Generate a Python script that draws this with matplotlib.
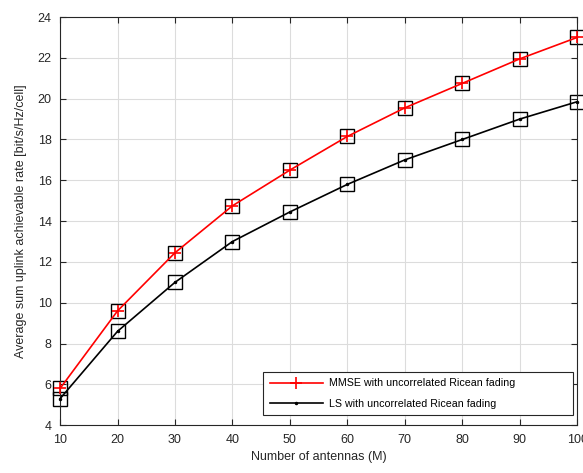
import matplotlib
matplotlib.use("Agg")
import matplotlib.pyplot as plt

plt.rcParams['font.family'] = ['Liberation Sans', 'DejaVu Sans']

# --- DATA ---
antennas = [10, 20, 30, 40, 50, 60, 70, 80, 90, 100]
mmse_rate = [5.8, 9.6, 12.45, 14.75, 16.5, 18.15, 19.55, 20.75, 21.95, 23.0]
ls_rate = [5.3, 8.6, 11.0, 13.0, 14.45, 15.8, 17.0, 18.0, 19.0, 19.85]
x_ticks = [10, 20, 30, 40, 50, 60, 70, 80, 90, 100]
y_ticks = [4, 6, 8, 10, 12, 14, 16, 18, 20, 22, 24]

fig = plt.figure(figsize=(5.83, 4.73), dpi=100)
ax = fig.add_axes([0.103, 0.101, 0.887, 0.863])

ax.plot(antennas, mmse_rate, color='red', lw=1.2, marker='+', ms=9, mew=1.2,
        label='MMSE with uncorrelated Ricean fading', zorder=3, clip_on=False)
ax.plot(antennas, ls_rate, color='black', lw=1.2, marker='.', ms=3,
        label='LS with uncorrelated Ricean fading', zorder=3, clip_on=False)
# square markers from the simulation points (not in legend)
ax.plot(antennas, mmse_rate, ls='none', marker='s', ms=10, mfc='none', mec='black', mew=1.0,
        zorder=2, clip_on=False)
ax.plot(antennas, ls_rate, ls='none', marker='s', ms=10, mfc='none', mec='black', mew=1.0,
        zorder=2, clip_on=False)

ax.set_xlim(10, 100)
ax.set_ylim(4, 24)
ax.set_xticks(x_ticks)
ax.set_yticks(y_ticks)
ax.tick_params(direction='in', length=4, labelsize=9, colors='#262626', top=True, right=True, pad=6)
ax.grid(True, color='#dcdcdc', lw=0.8)
ax.set_axisbelow(True)
for s in ax.spines.values():
    s.set_color('#262626')
    s.set_linewidth(0.8)

ax.set_xlabel('Number of antennas (M)', fontsize=9, color='#262626')
ax.set_ylabel('Average sum uplink achievable rate [bit/s/Hz/cell]', fontsize=9, color='#262626',
              labelpad=8)

# MATLAB-like legend box: wide frame, text left aligned
leg = ax.legend(loc='lower left', bbox_to_anchor=(0.393, 0.024, 0.598, 0.103), mode='expand',
                fontsize=7.7, fancybox=False, framealpha=1, edgecolor='#262626',
                borderaxespad=0, handlelength=5.0, handletextpad=0.5, borderpad=0.6,
                labelspacing=1.0)
leg.get_frame().set_linewidth(0.8)

fig.savefig('out.png', dpi=100)
